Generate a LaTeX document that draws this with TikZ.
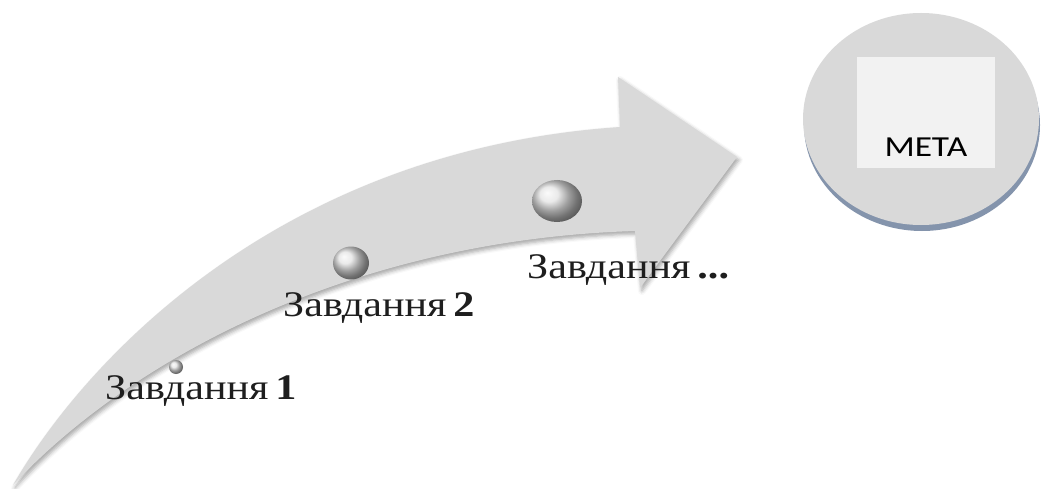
\documentclass[tikz,border=0pt]{standalone}
\usepackage{fontspec}
\usepackage{graphicx}
\setmainfont{Liberation Serif}
\newfontfamily\goalfont{Carlito}
\usetikzlibrary{shapes.geometric,shadows.blur}
\definecolor{arrowgray}{RGB}{217,217,217}
\definecolor{goalgray}{RGB}{217,217,217}
\definecolor{boxgray}{RGB}{242,242,242}
\definecolor{shadowblue}{RGB}{132,148,172}
\definecolor{labelink}{RGB}{30,30,30}
\begin{document}
\begin{tikzpicture}[x=1pt,y=-1pt,
  ballnode/.style={ellipse, inner sep=0pt, shading=ball, ball color=gray!22, draw=none},
  tasklabel/.style={anchor=base west, inner sep=0pt, font=\fontsize{36}{40}\selectfont, text=labelink},
]
\useasboundingbox (0,0) rectangle (1043,489);
% arrow
\fill[arrowgray, blur shadow={shadow xshift=2pt, shadow yshift=-3pt, shadow blur radius=4pt, shadow opacity=35}]
 (13,485) .. controls (85,360) and (280,150) .. (620,127) -- (618,77) -- (737,157) -- (640,288) -- (635,231)
 .. controls (350,240) and (130,360) .. (13,485) -- cycle;
% spheres
\node[ballnode, minimum width=14pt, minimum height=14pt] (b1) at (176,367) {};
\node[ballnode, minimum width=36pt, minimum height=33pt] (b2) at (351,263) {};
\node[ballnode, minimum width=50pt, minimum height=42pt] (b3) at (557,201) {};
% labels
\node[tasklabel] (t1) at (105,399) {\scalebox{1.17}[1]{Завдання\,\textbf{1}}};
\node[tasklabel] (t2) at (283,316) {\scalebox{1.17}[1]{Завдання\,\textbf{2}}};
\node[tasklabel] (t3) at (527,278) {\scalebox{1.17}[1]{Завдання\,\textbf{...}}};
% goal
\node[ellipse, fill=shadowblue, minimum width=236pt, minimum height=212pt, inner sep=0pt] (goalshadow) at (922,125) {};
\node[ellipse, fill=goalgray, minimum width=236pt, minimum height=212pt, inner sep=0pt] (goal) at (921,119) {};
\node[fill=boxgray, minimum width=138pt, minimum height=111pt, inner sep=0pt] (box) at (926,112.5) {};
\node[anchor=base, inner sep=0pt, font=\goalfont\fontsize{29}{30}\selectfont] (goaltext) at (box.south |- 0,157) {\scalebox{1.22}[1]{МЕТА}};
\end{tikzpicture}
\end{document}
